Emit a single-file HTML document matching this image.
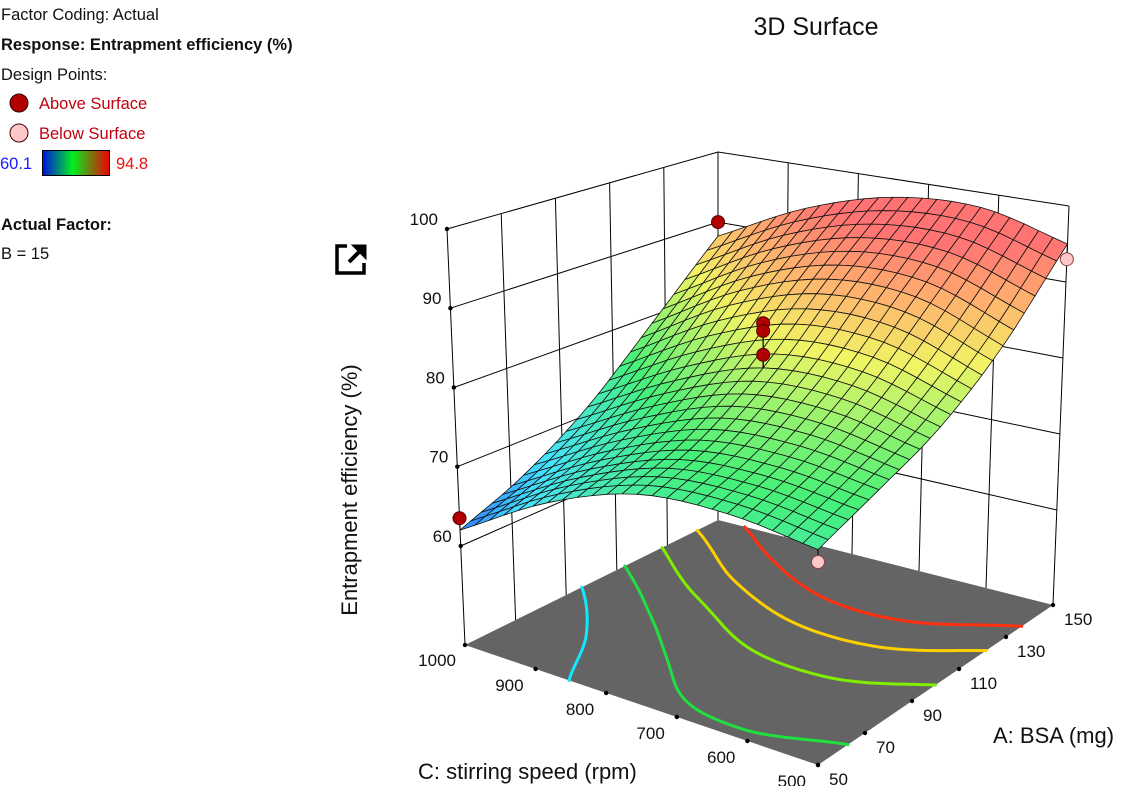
<!DOCTYPE html>
<html><head><meta charset="utf-8">
<style>
body{margin:0;background:#fff;width:1122px;height:786px;overflow:hidden;font-family:"Liberation Sans",sans-serif}
svg{position:absolute;left:0;top:0}
</style></head>
<body>
<svg id="chart" width="1122" height="786" viewBox="0 0 1122 786">
  <g font-size="16.5">
    <text x="1" y="20" fill="#111">Factor Coding: Actual</text>
    <text x="1" y="50" fill="#111" font-weight="bold">Response: Entrapment efficiency (%)</text>
    <text x="1" y="80" fill="#111">Design Points:</text>
    <circle cx="19" cy="103" r="9" fill="#b00000" stroke="#300"/>
    <text x="39" y="109" fill="#c00010">Above Surface</text>
    <circle cx="19" cy="133" r="9" fill="#ffc8c8" stroke="#400"/>
    <text x="39" y="139" fill="#c00010">Below Surface</text>
    <defs><linearGradient id="cb" x1="0" x2="1"><stop offset="0" stop-color="#0010e0"/><stop offset="0.45" stop-color="#00f020"/><stop offset="1" stop-color="#f00000"/></linearGradient></defs>
    <text x="0" y="169" fill="#1a1aff">60.1</text>
    <rect x="42.5" y="150.5" width="67" height="25" fill="url(#cb)" stroke="#000"/>
    <text x="116" y="169" fill="#f01010">94.8</text>
    <text x="1" y="230" fill="#111" font-weight="bold">Actual Factor:</text>
    <text x="1" y="259" fill="#111">B = 15</text>
  </g>
  <g stroke="#000" stroke-width="3.5" fill="none">
    <path d="M347 246 H337 V273 H364 V263"/>
    <path d="M349 262 L361 250" stroke-width="4"/>
    <path d="M352 245 H366 V259 Z" fill="#000" stroke-width="1"/>
  </g>
  <text x="816" y="35" font-size="25" text-anchor="middle" fill="#111">3D Surface</text>
  <text transform="translate(357,490) rotate(-90)" font-size="22" text-anchor="middle" fill="#111">Entrapment efficiency (%)</text>
  <text x="418" y="779" font-size="22" fill="#111">C: stirring speed (rpm)</text>
  <text x="993" y="743" font-size="22" fill="#111">A: BSA (mg)</text>
  <g id="walls"></g>
  <g id="floor"></g>
  <g id="surf"></g>
  <g id="axes"></g>
  <g id="pts"></g>
</svg>
<script>
// ---- data ----
const aTicks = [50, 70, 90, 110, 130, 150];
const cTicks = [500, 600, 700, 800, 900, 1000];
const zTicks = [60, 70, 80, 90, 100];
const gridA = [50, 75, 100, 125, 150];
const gridC = [1000, 875, 750, 625, 500];
const rowC1000 = [62, 65.5, 71, 79, 88];
const rowC875 = [69, 72, 77.5, 86, 94];
const rowC750 = [73.5, 76.5, 82, 90, 97.5];
const rowC625 = [74.5, 77.5, 82.5, 90, 98];
const rowC500 = [73.5, 76.5, 80, 86, 95];
const contourLevels = [70, 75, 80, 85, 90];
const contourColors = ["#10e8ff", "#20e040", "#80ee00", "#ffd000", "#ff3010"];
const ptA = [50, 150, 100, 100, 100, 150, 50];
const ptC = [1000, 1000, 750, 750, 750, 500, 500];
const ptZ = [63.5, 90, 87.8, 86.8, 83.7, 93, 72];
const ptAbove = [1, 1, 1, 1, 1, 0, 0];
const colorMin = 60.1, colorMax = 94.8;

const rows = [rowC1000, rowC875, rowC750, rowC625, rowC500];
const NS = "http://www.w3.org/2000/svg";
const Z0 = 47.5, ZT = 100;
const F = {p00:[818,765], p10:[1053,605], p01:[465,645], p11:[718,520]};
const T = {p00:[818,330], p10:[1069,206], p01:[447,229], p11:[718,152]};
function bil(Q,u,v){return [
 Q.p00[0]*(1-u)*(1-v)+Q.p10[0]*u*(1-v)+Q.p01[0]*(1-u)*v+Q.p11[0]*u*v,
 Q.p00[1]*(1-u)*(1-v)+Q.p10[1]*u*(1-v)+Q.p01[1]*(1-u)*v+Q.p11[1]*u*v];}
function P(A,C,z){const u=(A-50)/100, v=(C-500)/500;const f=bil(F,u,v), t=bil(T,u,v);const s=(z-Z0)/(ZT-Z0);return [f[0]+s*(t[0]-f[0]), f[1]+s*(t[1]-f[1])];}
function cr(p0,p1,p2,p3,t){return 0.5*((2*p1)+(-p0+p2)*t+(2*p0-5*p1+4*p2-p3)*t*t+(-p0+3*p1-3*p2+p3)*t*t*t);}
function ext2(i,j){
 if(i<0) return 2*ext2(0,j)-ext2(1,j); if(i>4) return 2*ext2(4,j)-ext2(3,j);
 if(j<0) return 2*rows[i][0]-rows[i][1]; if(j>4) return 2*rows[i][4]-rows[i][3];
 return rows[i][j];}
function val(A,C){
 const x=(A-gridA[0])/(gridA[1]-gridA[0]), y=(gridC[0]-C)/(gridC[0]-gridC[1]);
 const xi=Math.min(3,Math.floor(x)), yi=Math.min(3,Math.floor(y));const tx=x-xi, ty=y-yi;
 const r=[];
 for(let k=-1;k<=2;k++){const ii=yi+k;
  r.push(cr(ext2(ii,xi-1),ext2(ii,xi),ext2(ii,xi+1),ext2(ii,xi+2),tx));}
 return cr(r[0],r[1],r[2],r[3],ty);}
function color(v){
 const stops=[[0,[40,90,255]],[0.2,[70,225,255]],[0.45,[70,240,120]],[0.7,[240,245,100]],[0.85,[255,180,110]],[1,[255,115,115]]];
 let t=(v-colorMin)/(colorMax-colorMin);t=Math.max(0,Math.min(1,t));
 for(let k=1;k<stops.length;k++){if(t<=stops[k][0]){const a=stops[k-1],b=stops[k];const f=(t-a[0])/(b[0]-a[0]);
  return "rgb("+a[1].map((c,i)=>Math.round(c+f*(b[1][i]-c))).join(",")+")";}}
 return "rgb(255,115,115)";}
function el(tag,attrs,parent){const e=document.createElementNS(NS,tag);for(const k in attrs)e.setAttribute(k,attrs[k]);parent.appendChild(e);return e;}
function pts(arr){return arr.map(p=>p[0].toFixed(1)+","+p[1].toFixed(1)).join(" ");}

// ---- walls ----
const W=document.getElementById("walls");
const wl={stroke:"#000","stroke-width":"1",fill:"none"};
zTicks.forEach(z=>{
 const l=el("polyline",Object.assign({points:pts([P(50,1000,z),P(150,1000,z),P(150,500,z)])},wl),W);
 
 
});
aTicks.forEach(a=>{if(a===50)return;
 const l=el("line",Object.assign({x1:P(a,1000,Z0)[0],y1:P(a,1000,Z0)[1],x2:P(a,1000,ZT)[0],y2:P(a,1000,ZT)[1]},wl),W);
 
 
});
cTicks.forEach(c=>{
 const l=el("line",Object.assign({x1:P(150,c,Z0)[0],y1:P(150,c,Z0)[1],x2:P(150,c,ZT)[0],y2:P(150,c,ZT)[1]},wl),W);
 
 
});
{const l=el("line",Object.assign({x1:P(50,1000,Z0)[0],y1:P(50,1000,Z0)[1],x2:P(50,1000,ZT)[0],y2:P(50,1000,ZT)[1]},wl),W);
 
 }

// ---- floor + contours ----
const FL=document.getElementById("floor");
{const f=el("polygon",{points:pts([P(50,500,Z0),P(150,500,Z0),P(150,1000,Z0),P(50,1000,Z0)]),fill:"#646464"},FL);
 
 }
const NG=70, gvals=[];
for(let i=0;i<=NG;i++){gvals.push([]);for(let j=0;j<=NG;j++)gvals[i].push(val(50+100*j/NG,500+500*i/NG));}
contourLevels.forEach((lev,li)=>{
 let d="";
 for(let i=0;i<NG;i++)for(let j=0;j<NG;j++){
  const c=[[i,j],[i,j+1],[i+1,j+1],[i+1,j]];const cross=[];
  for(let k=0;k<4;k++){const p=c[k],q=c[(k+1)%4];const a=gvals[p[0]][p[1]],b=gvals[q[0]][q[1]];
   if((a<lev)!==(b<lev)){const t=(lev-a)/(b-a);const ii=p[0]+t*(q[0]-p[0]),jj=p[1]+t*(q[1]-p[1]);cross.push(P(50+100*jj/NG,500+500*ii/NG,Z0));}}
  for(let k=0;k+1<cross.length;k+=2)d+="M"+cross[k][0].toFixed(1)+" "+cross[k][1].toFixed(1)+"L"+cross[k+1][0].toFixed(1)+" "+cross[k+1][1].toFixed(1);
 }
 const p=el("path",{d:d,stroke:contourColors[li],"stroke-width":"3","fill":"none","stroke-linecap":"round"},FL);
 
 
});

// ---- surface ----
const S=document.getElementById("surf");
const N=24, quads=[];
for(let i=0;i<N;i++)for(let j=0;j<N;j++)quads.push([i,j]);
quads.sort((p,q)=>(q[0]+q[1])-(p[0]+p[1]));
quads.forEach(([i,j])=>{
 const A0=50+100*j/N,A1=50+100*(j+1)/N,C0=500+500*i/N,C1=500+500*(i+1)/N;
 const v00=val(A0,C0),v10=val(A1,C0),v11=val(A1,C1),v01=val(A0,C1);
 const q=el("polygon",{points:pts([P(A0,C0,v00),P(A1,C0,v10),P(A1,C1,v11),P(A0,C1,v01)]),fill:color((v00+v10+v11+v01)/4),stroke:"#111","stroke-width":"0.8","stroke-linejoin":"round"},S);
 
 
});

// ---- axes ticks ----
const AX=document.getElementById("axes");
zTicks.forEach(z=>{const p=P(50,1000,z);
 const d=el("circle",{cx:p[0],cy:p[1],r:2.2,fill:"#000"},AX);
 
 
 const t=el("text",{x:p[0]-9,y:p[1]-4,"font-size":"17","text-anchor":"end",fill:"#111"},AX);t.textContent=z;
 
 
});
{const p=P(50,1000,Z0);const t=el("text",{x:p[0]-9,y:p[1]+21,"font-size":"17","text-anchor":"end",fill:"#111"},AX);t.textContent="1000";
 
 
 const d=el("circle",{cx:p[0],cy:p[1],r:2.2,fill:"#000"},AX);
 
 }
cTicks.forEach(c=>{if(c===1000)return;const p=P(50,c,Z0);
 const d=el("circle",{cx:p[0],cy:p[1],r:2.2,fill:"#000"},AX);
 
 
 const t=el("text",{x:p[0]-12,y:p[1]+22,"font-size":"17","text-anchor":"end",fill:"#111"},AX);t.textContent=c;
 
 
});
aTicks.forEach(a=>{const p=P(a,500,Z0);
 const d=el("circle",{cx:p[0],cy:p[1],r:2.2,fill:"#000"},AX);
 
 
 const t=el("text",{x:p[0]+11,y:p[1]+20,"font-size":"17",fill:"#111"},AX);t.textContent=a;
 
 
});

// ---- design points ----
const PT=document.getElementById("pts");
ptA.forEach((a,k)=>{
 const sv=val(a,ptC[k]);const p=P(a,ptC[k],ptZ[k]);const s=P(a,ptC[k],sv);
 const ln=el("line",{x1:p[0],y1:p[1],x2:s[0],y2:s[1],stroke:"#000","stroke-width":"1"},PT);
 
 
 const c=el("circle",{cx:p[0],cy:p[1],r:6.5,fill:ptAbove[k]?"#b00000":"#ffc8c8",stroke:ptAbove[k]?"#500":"#844","stroke-width":"1"},PT);
 
 
});
</script>
</body></html>
